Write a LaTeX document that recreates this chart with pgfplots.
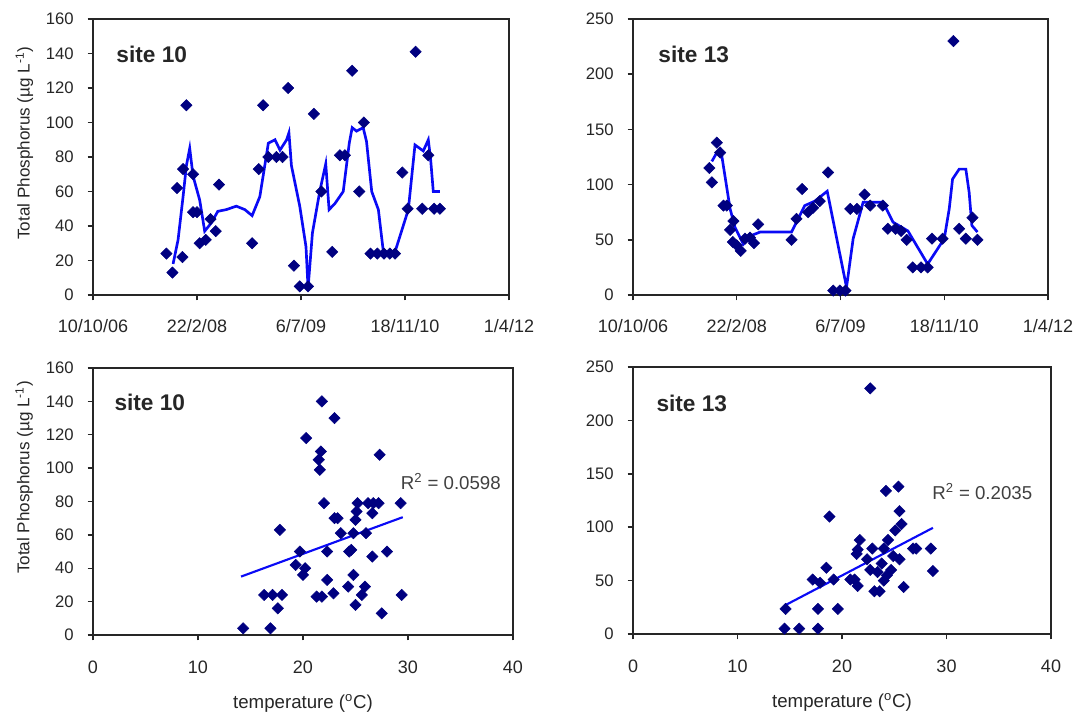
\documentclass[border=0pt]{standalone}
\usepackage{pgfplots}
\pgfplotsset{compat=1.18}
\usepackage{fontspec}
\setmainfont{Liberation Sans}
\definecolor{mk}{RGB}{0,0,128}
\definecolor{ln}{RGB}{10,10,245}
\tikzset{
  sitelab/.style={anchor=west, font=\fontsize{17}{19}\selectfont\bfseries, black!85},
  rlab/.style={anchor=west, font=\fontsize{14}{16}\selectfont, black!75},
}
\pgfplotsset{
  base/.style={
    scale only axis,
    axis line style={black!85, line width=1.1pt},
    tick style={black!85, line width=1.1pt},
    major tick length=4pt,
    tick align=outside,
    xtick pos=bottom, ytick pos=left,
    scaled x ticks=false, scaled y ticks=false,
    /pgf/number format/assume math mode=true,
    yticklabel style={font=\fontsize{12.5}{14}\selectfont, black!85, xshift=-7pt},
    xticklabel style={font=\fontsize{13.5}{15}\selectfont, black!85},
    ylabel style={font=\fontsize{12.8}{14}\selectfont, black!85},
    xlabel style={font=\fontsize{14}{16}\selectfont, black!85},
    clip=false,
  },
  pts/.style={only marks, mark=square*, mark size=3pt, mark options={rotate=45, fill=mk, draw=mk}},
  lin/.style={no marks, ln, line width=2pt},
}
\begin{document}
\begin{tikzpicture}
\path[use as bounding box] (0,0) rectangle (808.5pt,536.25pt);
% ---------- top left: site 10 time series
\begin{axis}[base, at={(69.75pt,315pt)}, anchor=south west, width=312pt, height=207pt,
  xmin=39000, xmax=41000, ymin=0, ymax=160,
  xtick={39000,39500,40000,40500,41000},
  xticklabels={10/10/06,22/2/08,6/7/09,18/11/10,1/4/12},
  xticklabel style={yshift=-11pt},
  ytick={0,20,...,160},
  ylabel={Total Phosphorus (µg L\textsuperscript{-1})},
  ylabel style={at={(axis description cs:-0.165,0.55)}, anchor=center},
]
\addplot[pts] coordinates {
(39353,24)(39382,13)(39404,62)(39430,22)(39433,73)(39449,110)(39481,70)(39481,48)(39500,48)
(39513,30)(39542,32)(39565,44)(39590,37)(39606,64)(39765,30)(39797,73)(39818,110)
(39843,80)(39882,80)(39911,80)(39938,120)(39966,17)(39994,5)(40034,5)(40062,105)
(40098,60)(40150,25)(40187,81)(40211,81)(40246,130)(40280,60)(40302,100)(40334,24)
(40367,24)(40399,24)(40427,24)(40452,24)(40487,71)(40513,50)(40551,141)(40583,50)
(40612,81)(40640,50)(40668,50)};
\addplot[lin] coordinates {
(39385,18)(39409,32)(39433,57)(39449,75)(39465,85)(39481,69)(39513,55)(39537,37)
(39570,42)(39600,48.5)(39641,49.5)(39689,51.5)(39730,49.5)(39765,46)(39802,57)
(39843,88)(39875,90)(39899,84)(39931,90)(39942,94)(39954,75)(39994,51.5)(40024,28)
(40034,4)(40055,36)(40090,60)(40119,76)(40135,49.5)(40163,53)(40203,60)(40232,88)
(40246,97)(40267,95)(40299,97)(40315,89)(40340,60)(40372,49.5)(40396,25)(40452,25)
(40516,49.5)(40548,87)(40588,83.5)(40612,90)(40623,79)(40636,60)(40668,60)};
\node[sitelab] at (rel axis cs:0.045,0.87) {site 10};
\end{axis}
% ---------- top right: site 13 time series
\begin{axis}[base, at={(474.75pt,315pt)}, anchor=south west, width=311.25pt, height=207pt,
  xmin=39000, xmax=41000, ymin=0, ymax=250,
  xtick={39000,39500,40000,40500,41000},
  xticklabels={10/10/06,22/2/08,6/7/09,18/11/10,1/4/12},
  xticklabel style={yshift=-11pt},
  ytick={0,50,...,250},
]
\addplot[pts] coordinates {
(39368,115)(39380,102)(39404,138)(39420,129)(39436,81)(39452,81)(39484,67)(39468,59)
(39481,48)(39500,45)(39519,40)(39540,51)(39564,52)(39583,47)(39603,64)(39764,50)
(39788,69)(39815,96)(39844,75)(39868,79)(39900,85)(39940,111)(39965,4)(39997,4)
(40024,4)(40047,78)(40079,78)(40116,91)(40143,81)(40204,81)(40228,60)(40265,60)
(40292,58)(40319,50)(40348,25)(40388,25)(40420,25)(40441,51)(40492,51)(40544,230)
(40572,60)(40604,51)(40636,70)(40660,50)};
\addplot[lin] coordinates {
(39380,121)(39404,129)(39420,132)(39428,126)(39468,78)(39492,61)(39532,46)(39572,54)
(39612,57)(39764,57)(39828,81)(39876,85)(39936,94)(40029,7)(40061,51)(40109,84)
(40205,84)(40253,66)(40325,58)(40420,28)(40500,51)(40524,78)(40540,105)(40572,114)
(40604,114)(40620,93)(40633,63)(40660,57)};
\node[sitelab] at (rel axis cs:0.05,0.87) {site 13};
\end{axis}
% ---------- bottom left: site 10 vs temperature
\begin{axis}[base, at={(69.75pt,60pt)}, anchor=south west, width=315pt, height=200.25pt,
  xmin=0, xmax=40, ymin=0, ymax=160,
  xtick={0,10,...,40}, ytick={0,20,...,160},
  xticklabel style={yshift=-12pt},
  ylabel={Total Phosphorus (µg L\textsuperscript{-1})},
  ylabel style={at={(axis description cs:-0.164,0.59)}, anchor=center},
  xlabel={temperature (\textsuperscript{o}C)},
  xlabel style={at={(axis description cs:0.5,-0.255)}, anchor=center},
]
\addplot[pts] coordinates {
(14.3,4)(16.9,4)(16.3,24)(17.1,24)(18.0,24)(17.6,16)(17.8,63)(19.3,42)(19.7,50)
(20.2,40)(20.0,36)(20.3,118)(21.3,23)(21.8,23)(22.9,25)(22.3,33)(21.5,105)(21.7,110)
(21.6,99)(21.8,140)(22.0,79)(22.3,50)(23.0,130)(23.0,70)(23.3,70)(23.6,61)(24.3,29)
(24.4,50)(24.6,51)(24.8,36)(25.0,18)(25.0,69)(25.1,74)(25.2,79)(24.8,61)(25.6,24)
(25.9,29)(26.0,61)(26.2,79)(26.6,73)(26.7,79)(26.6,47)(27.2,79)(27.3,108)(27.5,13)
(28.0,50)(29.3,79)(29.4,24)};
\addplot[lin, line width=1.6pt] coordinates {(14.1,35)(29.5,70.6)};
\node[sitelab] at (rel axis cs:0.04,0.87) {site 10};
\node[rlab] at (rel axis cs:0.722,0.575) {R\textsuperscript{2} = 0.0598};
\end{axis}
% ---------- bottom right: site 13 vs temperature
\begin{axis}[base, at={(474.75pt,60.75pt)}, anchor=south west, width=313.5pt, height=200.25pt,
  xmin=0, xmax=40, ymin=0, ymax=250,
  xtick={0,10,...,40}, ytick={0,50,...,250},
  xticklabel style={yshift=-12pt},
  xlabel={temperature (\textsuperscript{o}C)},
  xlabel style={at={(axis description cs:0.5,-0.258)}, anchor=center},
]
\addplot[pts] coordinates {
(22.7,230)(14.5,5)(15.9,5)(17.7,5)(14.6,23.5)(17.7,23.5)(19.6,23.5)(17.2,51)(17.9,48)
(18.5,62)(18.8,110)(19.2,51)(20.8,51)(21.2,51)(21.5,45)(21.4,75)(21.5,79)(21.7,88)
(22.4,70)(22.9,80)(22.7,60)(23.1,40)(23.6,40)(23.8,66)(24.0,50)(24.3,55)(24.7,60)
(23.4,58)(24.0,80)(24.4,88)(25.1,97)(25.7,103)(25.5,115)(25.5,70)(24.9,73)(24.2,134)
(25.4,138)(25.9,44)(26.8,80)(27.1,80)(28.5,80)(28.7,59)};
\addplot[lin, line width=1.6pt] coordinates {(14.5,26.6)(28.7,99.4)};
\node[sitelab] at (rel axis cs:0.045,0.865) {site 13};
\node[rlab] at (rel axis cs:0.705,0.535) {R\textsuperscript{2} = 0.2035};
\end{axis}
\end{tikzpicture}
\end{document}
